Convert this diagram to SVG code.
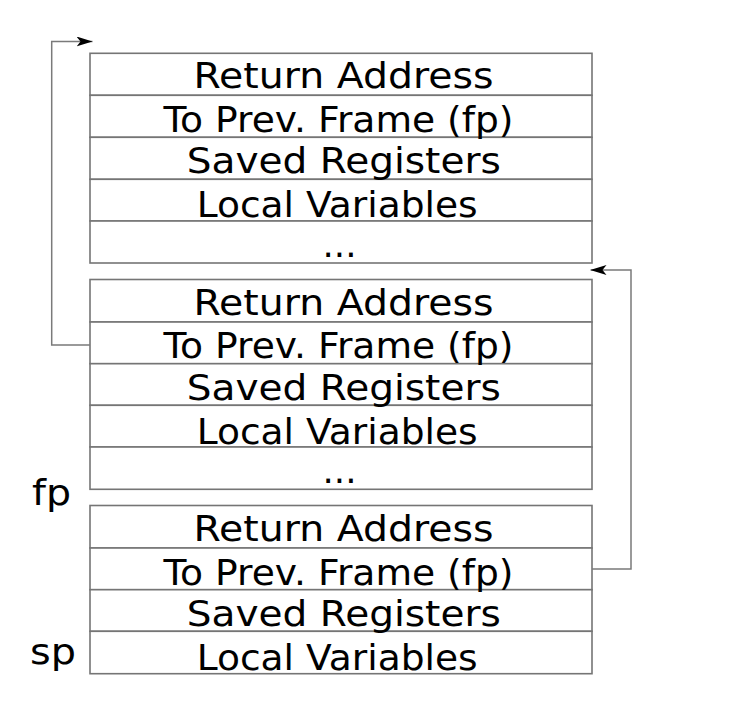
<svg xmlns="http://www.w3.org/2000/svg" width="752" height="725" viewBox="0 0 752 725">
<defs>
<style>
.row{fill:#ffffff;stroke:#757575;stroke-width:1.6}
.lbl{font-family:"DejaVu Sans",sans-serif;font-size:35px;fill:#000;text-anchor:middle}
.reg{font-family:"DejaVu Sans",sans-serif;font-size:35px;fill:#000}
.conn{fill:none;stroke:#7a7a7a;stroke-width:1.5}
</style>
<marker id="ah" viewBox="0 0 16 10" refX="16" refY="5" markerWidth="16" markerHeight="10" markerUnits="userSpaceOnUse" orient="auto">
<path d="M0,0 L16,5 L0,10 L4,5 Z" fill="#000"/>
</marker>
</defs>
<rect width="752" height="725" fill="#ffffff"/>

<g id="frame1">
<rect class="row" x="90" y="53.3" width="502" height="42"/>
<rect class="row" x="90" y="95.3" width="502" height="42"/>
<rect class="row" x="90" y="137.3" width="502" height="42"/>
<rect class="row" x="90" y="179.3" width="502" height="41.7"/>
<rect class="row" x="90" y="221" width="502" height="42"/>
<text class="lbl" x="343.5" y="88.3" textLength="300" lengthAdjust="spacingAndGlyphs">Return Address</text>
<text class="lbl" x="338.5" y="132.3" textLength="350" lengthAdjust="spacingAndGlyphs">To Prev. Frame (fp)</text>
<text class="lbl" x="343.8" y="173.3" textLength="314" lengthAdjust="spacingAndGlyphs">Saved Registers</text>
<text class="lbl" x="337.2" y="217.3" textLength="281" lengthAdjust="spacingAndGlyphs">Local Variables</text>
<text class="lbl" x="339.5" y="256.7" textLength="34" lengthAdjust="spacingAndGlyphs">...</text>
</g>

<g id="frame2">
<rect class="row" x="90" y="279.5" width="502" height="42.5"/>
<rect class="row" x="90" y="322" width="502" height="41.7"/>
<rect class="row" x="90" y="363.7" width="502" height="41.6"/>
<rect class="row" x="90" y="405.3" width="502" height="41.7"/>
<rect class="row" x="90" y="447" width="502" height="42.3"/>
<text class="lbl" x="343.5" y="314.7" textLength="300" lengthAdjust="spacingAndGlyphs">Return Address</text>
<text class="lbl" x="338.5" y="358" textLength="350" lengthAdjust="spacingAndGlyphs">To Prev. Frame (fp)</text>
<text class="lbl" x="343.8" y="399.7" textLength="314" lengthAdjust="spacingAndGlyphs">Saved Registers</text>
<text class="lbl" x="337.2" y="444.3" textLength="281" lengthAdjust="spacingAndGlyphs">Local Variables</text>
<text class="lbl" x="339.5" y="482.7" textLength="34" lengthAdjust="spacingAndGlyphs">...</text>
</g>

<g id="frame3">
<rect class="row" x="90" y="505.5" width="502" height="42.5"/>
<rect class="row" x="90" y="548" width="502" height="41.7"/>
<rect class="row" x="90" y="589.7" width="502" height="41.6"/>
<rect class="row" x="90" y="631.3" width="502" height="42.4"/>
<text class="lbl" x="343.5" y="540.7" textLength="300" lengthAdjust="spacingAndGlyphs">Return Address</text>
<text class="lbl" x="338.5" y="585.3" textLength="350" lengthAdjust="spacingAndGlyphs">To Prev. Frame (fp)</text>
<text class="lbl" x="343.8" y="625.7" textLength="314" lengthAdjust="spacingAndGlyphs">Saved Registers</text>
<text class="lbl" x="337.2" y="670.3" textLength="281" lengthAdjust="spacingAndGlyphs">Local Variables</text>
</g>

<g id="fp">
<text class="reg" x="32" y="505" textLength="39" lengthAdjust="spacingAndGlyphs">fp</text>
</g>
<g id="sp">
<text class="reg" x="30" y="663.5" textLength="46" lengthAdjust="spacingAndGlyphs">sp</text>
</g>

<g id="connectors">
<path class="conn" d="M90,345 L51.7,345 L51.7,41.5 L92.5,41.5" marker-end="url(#ah)"/>
<path class="conn" d="M592,569 L631,569 L631,270 L590.5,270" marker-end="url(#ah)"/>
</g>
</svg>
